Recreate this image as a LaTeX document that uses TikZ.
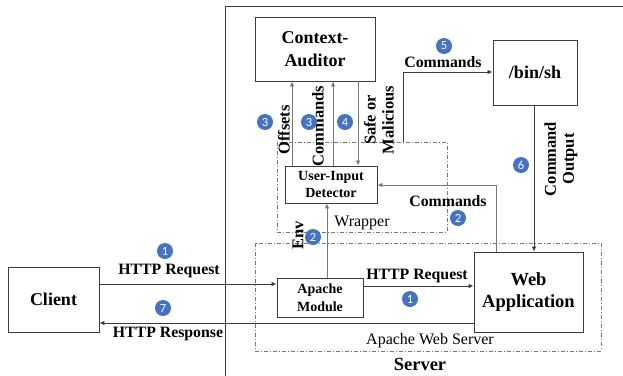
\documentclass[tikz,border=0pt]{standalone}
\usepackage{fontspec}
\setmainfont{Liberation Serif}
\newfontfamily\ballfont{Carlito}
\usetikzlibrary{arrows.meta}
\definecolor{ballblue}{RGB}{68,114,196}
\definecolor{boxline}{RGB}{60,60,60}
\definecolor{lightline}{RGB}{120,120,120}
\tikzset{
  box/.style={draw=boxline, line width=0.9pt, fill=white, align=center, inner sep=0pt, font=\bfseries},
  bigbox/.style={box, font=\fontsize{18}{23}\selectfont\bfseries},
  smallbox/.style={box, font=\fontsize{14}{17.5}\selectfont\bfseries},
  lbl/.style={font=\fontsize{15.8}{17}\selectfont\bfseries, inner sep=0pt, align=center},
  rlbl/.style={lbl, font=\fontsize{16.5}{18}\selectfont\bfseries, rotate=90},
  plain/.style={font=\fontsize{16}{18}\selectfont, inner sep=0pt},
  ball/.style={circle, fill=ballblue, text=white, minimum size=16pt, inner sep=0pt, font=\ballfont\fontsize{12.5}{12.5}\selectfont},
  arr/.style={draw=boxline, line width=0.8pt, -{Latex[length=5pt,width=4.5pt]}},
  garr/.style={draw=lightline, line width=0.8pt, -{Latex[length=5pt,width=4.5pt]}},
  dashbox/.style={draw=lightline, line width=0.7pt, dash pattern=on 4pt off 2pt on 1pt off 2pt},
}
\begin{document}
\begin{tikzpicture}[x=1pt,y=-1pt]
\useasboundingbox (0,0) rectangle (623,375);
% server outline
\draw[draw=boxline, line width=0.9pt] (630,6) -- (225,6) -- (225,380);
% dash-dot groups
\draw[dashbox] (277,142) rectangle (447,232);
\draw[dashbox] (255,243) rectangle (601,351);
\node[plain] (wraplbl) at (362,223) {Wrapper};
\node[plain] (awslbl) at (430,341) {Apache Web Server};
\node[font=\fontsize{18.5}{20}\selectfont\bfseries, inner sep=0pt] (serverlbl) at (420,364) {Server};
% boxes
\node[bigbox, minimum width=120pt, minimum height=64pt] (CA) at (315,49) {Context-\\Auditor};
\node[bigbox, minimum width=84pt, minimum height=65pt] (SH) at (535,72.5) {/bin/sh};
\node[smallbox, minimum width=92pt, minimum height=37pt] (UID) at (331,184.5) {User-Input\\Detector};
\node[smallbox, minimum width=86pt, minimum height=39pt] (AM) at (320,297.5) {Apache\\Module};
\node[bigbox, minimum width=109pt, minimum height=80pt, font=\fontsize{18.5}{22}\selectfont\bfseries] (WA) at (528.5,292) {Web\\Application};
\node[bigbox, minimum width=91pt, minimum height=65pt] (CL) at (53.5,299.5) {Client};
% helper coordinates
\coordinate (c5s) at (403,142);
\coordinate (c5b) at (403,72);
\coordinate (c2b) at (496,185);
% connectors
\draw[arr] (CL.east |- 0,284) -- (AM.west |- 0,284);
\draw[arr] (AM.east |- 0,286) -- (WA.west |- 0,286);
\draw[arr] (WA.west |- 0,323) -- (CL.east |- 0,323);
\draw[garr] (AM.north -| 327,0) -- (UID.south -| 327,0);
\draw[garr] (WA.north -| c2b) -- (c2b) -- (UID.east |- c2b);
\draw[garr] (UID.north -| 292,0) -- (CA.south -| 292,0);
\draw[garr] (UID.north -| 333,0) -- (CA.south -| 333,0);
\draw[garr] (CA.south -| 358,0) -- (UID.north -| 358,0);
\draw[arr] (c5s) -- (c5b) -- (SH.west |- c5b);
\draw[arr] (SH.south -| 534,0) -- (WA.north -| 534,0);
% labels
\node[lbl] (l1) at (169,271) {HTTP Request};
\node[lbl] (l1b) at (417,276) {HTTP Request};
\node[lbl] (l7) at (168,334) {HTTP Response};
\node[lbl] (l2) at (448,201) {Commands};
\node[lbl] (l5) at (443,62) {Commands};
\node[rlbl] (lenv) at (298,235) {Env};
\node[rlbl] (loff) at (284,130) {Offsets};
\node[rlbl] (lcmd) at (318,126) {Commands};
\node[rlbl] (lsm) at (379,120) {Safe or\\Malicious};
\node[rlbl] (lco) at (561,159) {Command\\Output};
% balls
\node[ball] (b1) at (165,251) {1};
\node[ball] (b1b) at (410,299) {1};
\node[ball] (b7) at (163,308) {7};
\node[ball] (b2) at (313,237) {2};
\node[ball] (b2b) at (458,218) {2};
\node[ball] (b3a) at (265,122) {3};
\node[ball] (b3b) at (309,122) {3};
\node[ball] (b4) at (345,122) {4};
\node[ball] (b5) at (444,46) {5};
\node[ball] (b6) at (521,165) {6};
\end{tikzpicture}
\end{document}
